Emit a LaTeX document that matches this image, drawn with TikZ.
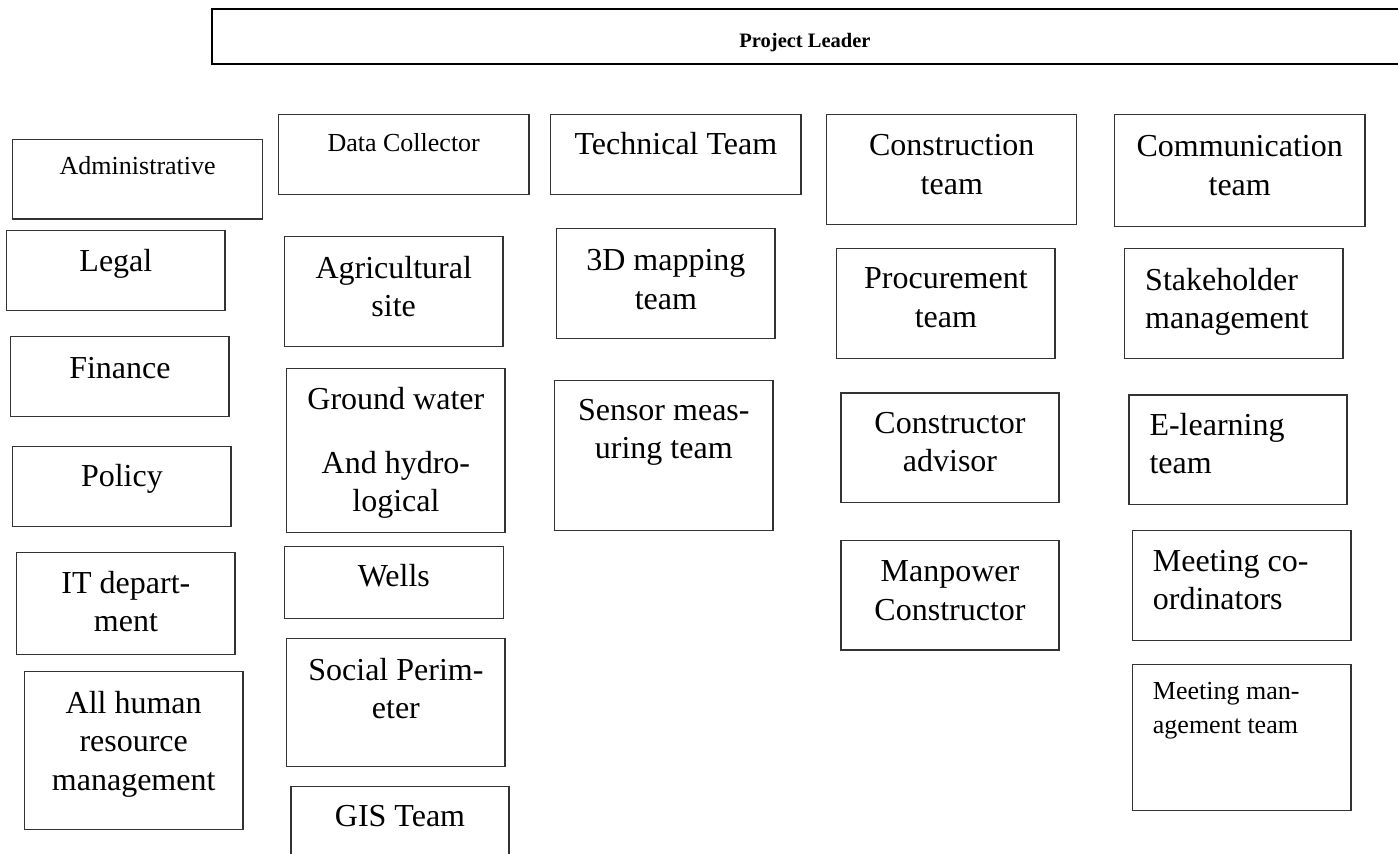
\documentclass[tikz,border=0pt]{standalone}
\usepackage{fontspec}
\setmainfont{Liberation Serif}
\usetikzlibrary{fit}
\tikzset{
  box/.style={draw=black!80, line width=1.3pt, inner sep=0pt, outer sep=0pt, rectangle},
  lead/.style={draw=black, line width=1.8pt, inner sep=0pt, outer sep=0pt, rectangle},
  big/.style={anchor=north, inner sep=0pt, align=center, font=\fontsize{32}{38.5}\selectfont},
  bigl/.style={big, anchor=north west, align=left},
  small/.style={anchor=north, inner sep=0pt, align=center, font=\fontsize{26}{33.3}\selectfont},
  smalll/.style={small, anchor=north west, align=left},
  boldt/.style={anchor=base, inner sep=0pt, font=\fontsize{20.5}{24}\selectfont\bfseries},
}
\begin{document}
\begin{tikzpicture}[x=1pt,y=-1pt]
\useasboundingbox (0,0) rectangle (1398,854);
\fill[white] (0,0) rectangle (1398,854);
\clip (0,0) rectangle (1398,854);

% Project leader
\node[lead, fit={(212.3,9) (1420,64.3)}] (lead) {};
\node[boldt] (lead-t) at (805,47) {Project Leader};

% Column 1
\node[box, fit={(12.7,139.3) (262.7,219)}] (adm) {};
\node[small] (adm-t) at (137.7,151.4) {\strut Administrative};
\node[box, fit={(6.7,230.3) (225,310.7)}] (legal) {};
\node[big] (legal-t) at (115.9,244.75) {\strut Legal};
\node[box, fit={(10.7,336.3) (229,416.3)}] (fin) {};
\node[big] (fin-t) at (119.9,351.05) {\strut Finance};
\node[box, fit={(12.7,446.7) (231,526.7)}] (pol) {};
\node[big] (pol-t) at (121.9,459.75) {\strut Policy};
\node[box, fit={(16.7,552.3) (235,654.7)}] (it) {};
\node[big] (it-t) at (125.9,566.05) {\strut IT depart-\\ment};
\node[box, fit={(24.3,671.3) (243,829.7)}] (hr) {};
\node[big] (hr-t) at (133.7,686.05) {\strut All human\\resource\\management};

% Column 2
\node[box, fit={(278.3,114.3) (529,194.3)}] (dc) {};
\node[small] (dc-t) at (403.7,127.7) {\strut Data Collector};
\node[box, fit={(284.3,236.3) (503,346.3)}] (agr) {};
\node[big] (agr-t) at (393.7,251.05) {\strut Agricultural\\site};
\node[box, fit={(286.7,368.7) (505,532.7)}] (gw) {};
\node[big] (gw-t) at (395.9,382.05) {\strut Ground water\\[25.5pt]And hydro-\\logical};
\node[box, fit={(284.3,546.7) (503.3,618.7)}] (wells) {};
\node[big] (wells-t) at (393.8,559.75) {\strut Wells};
\node[box, fit={(286.7,638.3) (505,766.7)}] (soc) {};
\node[big] (soc-t) at (395.9,653.05) {\strut Social Perim-\\eter};
\node[box, fit={(291,786.7) (509,900)}] (gis) {};
\node[big] (gis-t) at (400,799.75) {\strut GIS Team};

% Column 3
\node[box, fit={(550.7,114.3) (801,194.6)}] (tech) {};
\node[big] (tech-t) at (675.9,127.65) {\strut Technical Team};
\node[box, fit={(556.8,228.6) (775,338.2)}] (map) {};
\node[big] (map-t) at (665.9,243.75) {\strut 3D mapping\\team};
\node[box, fit={(554.6,380.7) (772.9,530.4)}] (sens) {};
\node[big] (sens-t) at (663.8,393.05) {\strut Sensor meas-\\uring team};

% Column 4
\node[box, fit={(826.8,114.3) (1076.8,224.3)}] (cons) {};
\node[big] (cons-t) at (951.8,128.75) {\strut Construction\\team};
\node[box, fit={(836.8,248.6) (1055,358.2)}] (proc) {};
\node[big] (proc-t) at (945.9,261.65) {\strut Procurement\\team};
\node[box, fit={(841,392.9) (1059,502.5)}] (cadv) {};
\node[big] (cadv-t) at (950,406.05) {\strut Constructor\\advisor};
\node[box, fit={(841,540.4) (1059,650)}] (manp) {};
\node[big] (manp-t) at (950,554.45) {\strut Manpower\\Constructor};

% Column 5
\node[box, fit={(1114.3,114.3) (1365,226.7)}] (comm) {};
\node[big] (comm-t) at (1239.7,129.75) {\strut Communication\\team};
\node[box, fit={(1124.3,248.3) (1343,358.3)}] (stake) {};
\node[bigl] (stake-t) at (1145,263.05) {\strut Stakeholder\\management};
\node[box, fit={(1129,395) (1347,504.3)}] (elearn) {};
\node[bigl] (elearn-t) at (1149.3,408.05) {\strut E-learning\\team};
\node[box, fit={(1132.3,530.7) (1351,640.3)}] (mcoord) {};
\node[bigl] (mcoord-t) at (1152.7,544.05) {\strut Meeting co-\\ordinators};
\node[box, fit={(1132.3,664.3) (1351,810.7)}] (mmgmt) {};
\node[smalll] (mmgmt-t) at (1152.7,676.4) {\strut Meeting man-\\agement team};
\end{tikzpicture}
\end{document}
